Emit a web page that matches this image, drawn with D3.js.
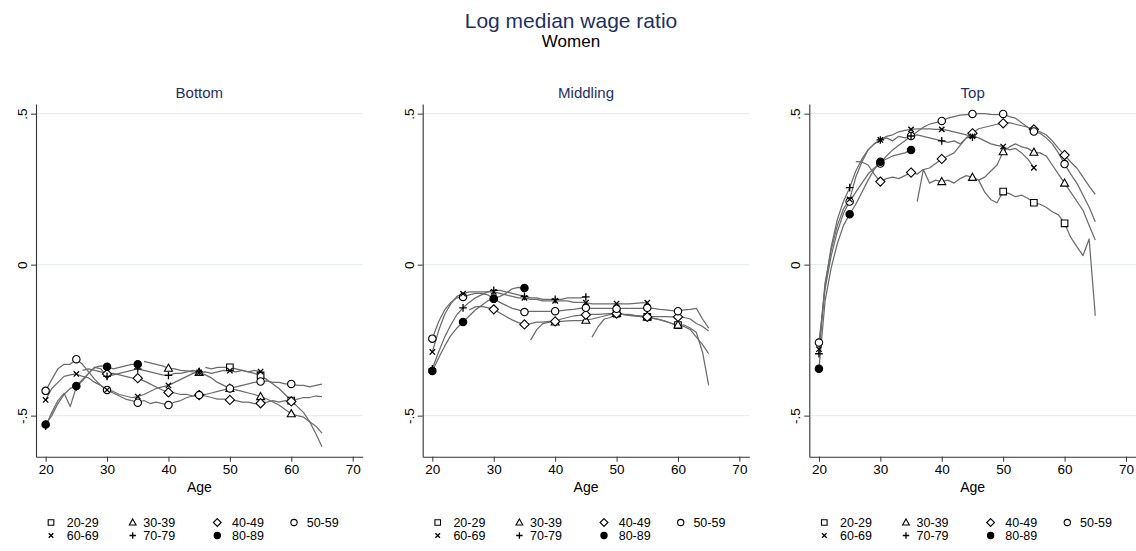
<!DOCTYPE html>
<html>
<head>
<meta charset="utf-8">
<script src="https://cdn.jsdelivr.net/npm/d3@7/dist/d3.min.js"></script>
<style>
  html, body { margin: 0; padding: 0; background: #fff; }
  svg text { font-family: "Liberation Sans", Arial, Helvetica, sans-serif; }
</style>
</head>
<body>
<svg id="chart" width="1136" height="551"></svg>
<script>
'use strict';

// Cohorts (birth decade) and the first age each one is observed at.
var cohorts = ['20-29', '30-39', '40-49', '50-59', '60-69', '70-79', '80-89'];
var firstAge = [46, 36, 26, 20, 20, 20, 20];
var markerAges = [20, 25, 30, 35, 40, 45, 50, 55, 60];
var xTicks = [20, 30, 40, 50, 60, 70];
var yTicks = [-0.5, 0, 0.5];
var yTickLabels = ['-.5', '0', '.5'];
var panelTitles = ['Bottom', 'Middling', 'Top'];

// Bottom occupations, one value per year of age
var bottom2029 = [-0.34, -0.345, -0.34, -0.34, -0.34, -0.345, -0.35, -0.355, -0.36, -0.367,
  -0.38, -0.395, -0.41, -0.43, -0.45, -0.47, -0.49, -0.52, -0.56, -0.603];
var bottom3039 = [-0.32, -0.325, -0.33, -0.335, -0.343, -0.345, -0.35, -0.352, -0.355, -0.357,
  -0.365, -0.375, -0.39, -0.4, -0.41, -0.415, -0.42, -0.425, -0.43, -0.437,
  -0.445, -0.455, -0.465, -0.48, -0.494, -0.5, -0.505, -0.52, -0.535, -0.558];
var bottom4049 = [-0.35, -0.345, -0.35, -0.355, -0.362, -0.36, -0.365, -0.37, -0.375, -0.376,
  -0.385, -0.395, -0.405, -0.415, -0.423, -0.425, -0.43, -0.43, -0.435, -0.432,
  -0.435, -0.44, -0.445, -0.445, -0.448, -0.45, -0.455, -0.455, -0.46, -0.459,
  -0.455, -0.45, -0.455, -0.45, -0.453, -0.445, -0.44, -0.44, -0.435, -0.437];
var bottom5059 = [-0.418, -0.38, -0.345, -0.33, -0.33, -0.313, -0.33, -0.355, -0.38, -0.4,
  -0.415, -0.425, -0.435, -0.445, -0.45, -0.457, -0.45, -0.46, -0.455, -0.46,
  -0.465, -0.455, -0.45, -0.44, -0.435, -0.432, -0.43, -0.425, -0.42, -0.415,
  -0.41, -0.405, -0.4, -0.395, -0.39, -0.387, -0.385, -0.39, -0.39, -0.395,
  -0.395, -0.4, -0.4, -0.405, -0.4, -0.396];
var bottom6069 = [-0.448, -0.41, -0.39, -0.37, -0.365, -0.362, -0.37, -0.375, -0.39, -0.4,
  -0.415, -0.42, -0.43, -0.435, -0.44, -0.437, -0.43, -0.42, -0.41, -0.405,
  -0.4, -0.39, -0.38, -0.37, -0.36, -0.357, -0.355, -0.36, -0.355, -0.35,
  -0.351, -0.355, -0.35, -0.355, -0.35, -0.354];
var bottom7079 = [-0.535, -0.49, -0.45, -0.426, -0.47, -0.405, -0.385, -0.36, -0.34, -0.345,
  -0.37, -0.365, -0.36, -0.355, -0.35, -0.345, -0.35, -0.355, -0.36, -0.365,
  -0.367, -0.36, -0.36, -0.355, -0.35, -0.355];
var bottom8089 = [-0.529, -0.5, -0.46, -0.43, -0.41, -0.402, -0.38, -0.36, -0.34, -0.335,
  -0.338, -0.345, -0.34, -0.335, -0.33, -0.33];

// Middling occupations
var middle2029 = [-0.24, -0.205, -0.18, -0.175, -0.162, -0.165, -0.168, -0.17, -0.172, -0.173,
  -0.178, -0.182, -0.188, -0.195, -0.2, -0.2, -0.21, -0.225, -0.29, -0.4];
var middle3039 = [-0.25, -0.215, -0.195, -0.19, -0.19, -0.188, -0.186, -0.185, -0.185, -0.184,
  -0.18, -0.175, -0.17, -0.165, -0.162, -0.165, -0.168, -0.17, -0.172, -0.173,
  -0.178, -0.182, -0.188, -0.195, -0.2, -0.205, -0.215, -0.24, -0.265, -0.295];
var middle4049 = [-0.15, -0.14, -0.138, -0.142, -0.148, -0.16, -0.172, -0.183, -0.192, -0.198,
  -0.195, -0.19, -0.19, -0.188, -0.188, -0.18, -0.175, -0.17, -0.168, -0.166,
  -0.165, -0.165, -0.163, -0.162, -0.162, -0.165, -0.165, -0.168, -0.17, -0.173,
  -0.172, -0.172, -0.172, -0.173, -0.173, -0.175, -0.18, -0.195, -0.205, -0.22];
var middle5059 = [-0.245, -0.19, -0.15, -0.125, -0.11, -0.107, -0.1, -0.095, -0.095, -0.1,
  -0.113, -0.125, -0.135, -0.145, -0.15, -0.157, -0.155, -0.155, -0.155, -0.155,
  -0.154, -0.152, -0.15, -0.148, -0.145, -0.143, -0.145, -0.145, -0.145, -0.145,
  -0.146, -0.145, -0.145, -0.145, -0.145, -0.143, -0.145, -0.148, -0.15, -0.152,
  -0.154, -0.15, -0.148, -0.145, -0.18, -0.21];
var middle6069 = [-0.289, -0.22, -0.165, -0.13, -0.105, -0.096, -0.09, -0.09, -0.09, -0.09,
  -0.09, -0.095, -0.1, -0.105, -0.11, -0.11, -0.115, -0.115, -0.12, -0.12,
  -0.12, -0.12, -0.12, -0.125, -0.125, -0.126, -0.13, -0.13, -0.13, -0.13,
  -0.129, -0.13, -0.13, -0.128, -0.127, -0.126];
var middle7079 = [-0.345, -0.29, -0.24, -0.2, -0.165, -0.143, -0.125, -0.11, -0.1, -0.09,
  -0.085, -0.085, -0.09, -0.095, -0.1, -0.105, -0.11, -0.11, -0.115, -0.115,
  -0.115, -0.115, -0.11, -0.11, -0.11, -0.107];
var middle8089 = [-0.352, -0.31, -0.27, -0.235, -0.21, -0.19, -0.17, -0.15, -0.135, -0.12,
  -0.113, -0.105, -0.095, -0.08, -0.075, -0.077];

// Top occupations
var top2029 = [0.28, 0.24, 0.215, 0.205, 0.242, 0.235, 0.225, 0.23, 0.22, 0.205,
  0.2, 0.19, 0.175, 0.165, 0.137, 0.09, 0.06, 0.03, 0.085, -0.169];
var top3039 = [0.209, 0.315, 0.27, 0.28, 0.275, 0.28, 0.27, 0.285, 0.295, 0.289,
  0.28, 0.29, 0.31, 0.33, 0.374, 0.39, 0.4, 0.39, 0.385, 0.372,
  0.37, 0.36, 0.33, 0.3, 0.27, 0.24, 0.21, 0.18, 0.13, 0.082];
var top4049 = [0.341, 0.34, 0.33, 0.3, 0.275, 0.285, 0.29, 0.285, 0.295, 0.305,
  0.3, 0.315, 0.32, 0.335, 0.35, 0.36, 0.37, 0.395, 0.42, 0.435,
  0.45, 0.455, 0.46, 0.465, 0.468, 0.47, 0.465, 0.46, 0.455, 0.448,
  0.44, 0.43, 0.41, 0.385, 0.363, 0.34, 0.32, 0.29, 0.26, 0.233];
var top5059 = [-0.258, -0.08, 0.03, 0.11, 0.17, 0.209, 0.24, 0.27, 0.3, 0.32,
  0.335, 0.36, 0.38, 0.395, 0.41, 0.426, 0.44, 0.455, 0.465, 0.47,
  0.476, 0.485, 0.49, 0.495, 0.497, 0.499, 0.5, 0.5, 0.498, 0.497,
  0.499, 0.49, 0.485, 0.47, 0.455, 0.441, 0.435, 0.42, 0.4, 0.37,
  0.333, 0.3, 0.27, 0.23, 0.19, 0.142];
var top6069 = [-0.28, -0.06, 0.05, 0.13, 0.185, 0.216, 0.29, 0.34, 0.38, 0.4,
  0.413, 0.425, 0.43, 0.44, 0.445, 0.448, 0.45, 0.45, 0.45, 0.448,
  0.448, 0.445, 0.44, 0.435, 0.43, 0.425, 0.42, 0.41, 0.4, 0.395,
  0.391, 0.38, 0.385, 0.37, 0.35, 0.321];
var top7079 = [-0.295, -0.07, 0.06, 0.15, 0.21, 0.255, 0.31, 0.35, 0.38, 0.4,
  0.413, 0.42, 0.41, 0.425, 0.42, 0.426, 0.43, 0.425, 0.42, 0.415,
  0.41, 0.405, 0.41, 0.4, 0.42, 0.422];
var top8089 = [-0.345, -0.12, -0.01, 0.07, 0.13, 0.167, 0.2, 0.24, 0.28, 0.315,
  0.341, 0.35, 0.36, 0.365, 0.37, 0.38];

var panelSeries = [
  [bottom2029, bottom3039, bottom4049, bottom5059, bottom6069, bottom7079, bottom8089],
  [middle2029, middle3039, middle4049, middle5059, middle6069, middle7079, middle8089],
  [top2029, top3039, top4049, top5059, top6069, top7079, top8089]
];

var layout = {
  panelLeft: [36, 422.7, 809.3],
  plotWidth: 326.7,
  plotTop: 104,
  plotBottom: 456.7,
  xDomain: [18.43, 71.63],
  yDomain: [-0.636, 0.532],
  legendSymbolX: [15, 96.7, 181.3, 258],
  legendTextX: [30.7, 107.3, 196, 270.7],
  legendRowY: [522.5, 535.5]
};

var markerTypes = ['square', 'triangle', 'diamond', 'circle', 'cross', 'plus', 'dot'];
var titleColor = '#1f3162';
var lineColor = '#6c6c6c';
var gridColor = '#e7eef1';
var axisColor = '#333';

var svg = d3.select('#chart');

/**
 * Path for one marker, centred on 0,0.
 * @param {String} type
 * @param {Number} scale  1 for the plot, smaller for the legend
 */
function markerPath(type, scale) {
  var p = d3.path(), s;
  if (type === 'square') {
    s = 3.3 * scale;
    p.rect(-s, -s, 2 * s, 2 * s);
  } else if (type === 'triangle') {
    s = 4 * scale;
    p.moveTo(0, -s * 1.05);
    p.lineTo(s, s * 0.75);
    p.lineTo(-s, s * 0.75);
    p.closePath();
  } else if (type === 'diamond') {
    s = 4.6 * scale;
    p.moveTo(0, -s);
    p.lineTo(s, 0);
    p.lineTo(0, s);
    p.lineTo(-s, 0);
    p.closePath();
  } else if (type === 'circle' || type === 'dot') {
    s = 3.7 * scale;
    p.arc(0, 0, s, 0, 2 * Math.PI);
    p.closePath();
  } else if (type === 'cross') {
    s = 2.7 * scale;
    p.moveTo(-s, -s); p.lineTo(s, s);
    p.moveTo(s, -s); p.lineTo(-s, s);
  } else if (type === 'plus') {
    s = 3.8 * scale;
    p.moveTo(-s, 0); p.lineTo(s, 0);
    p.moveTo(0, -s); p.lineTo(0, s);
  }
  return p.toString();
}

function drawMarker(g, type, x, y, scale) {
  var open = type === 'cross' || type === 'plus';
  g.append('path')
    .attr('d', markerPath(type, scale))
    .attr('transform', 'translate(' + x + ',' + y + ')')
    .attr('fill', open ? 'none' : (type === 'dot' ? '#000' : '#fff'))
    .attr('stroke', '#000')
    .attr('stroke-width', open ? 1.3 : 1.1);
}

// Overall titles
svg.append('text')
  .attr('x', 571).attr('y', 27.5)
  .attr('text-anchor', 'middle')
  .attr('font-size', 21)
  .attr('fill', titleColor)
  .text('Log median wage ratio');
svg.append('text')
  .attr('x', 571).attr('y', 47)
  .attr('text-anchor', 'middle')
  .attr('font-size', 17)
  .attr('fill', '#000')
  .text('Women');

panelSeries.forEach(function(series, pi) {
  var left = layout.panelLeft[pi],
      right = left + layout.plotWidth,
      g = svg.append('g').attr('class', 'panel'),
      x, y, line, yAxis, xAxis;

  x = d3.scaleLinear().domain(layout.xDomain).range([left, right]);
  y = d3.scaleLinear().domain(layout.yDomain).range([layout.plotBottom, layout.plotTop]);

  // Grid lines
  g.append('g').selectAll('line')
    .data(yTicks)
    .enter().append('line')
    .attr('x1', left).attr('x2', right)
    .attr('y1', function(d) { return y(d); })
    .attr('y2', function(d) { return y(d); })
    .attr('stroke', gridColor)
    .attr('stroke-width', 1.2);

  // Cohort lines
  line = d3.line()
    .x(function(d) { return x(d.age); })
    .y(function(d) { return y(d.value); });

  series.forEach(function(values, ci) {
    var pts = values.map(function(v, i) {
      return { age: firstAge[ci] + i, value: v };
    });
    g.append('path')
      .datum(pts)
      .attr('d', line)
      .attr('fill', 'none')
      .attr('stroke', lineColor)
      .attr('stroke-width', 1.25)
      .attr('stroke-linejoin', 'round');
  });

  // Markers every five years, drawn above all lines
  series.forEach(function(values, ci) {
    var lastAge = firstAge[ci] + values.length - 1;
    markerAges.forEach(function(age) {
      if (age < firstAge[ci] || age > lastAge) {
        return;
      }
      drawMarker(g, markerTypes[ci], x(age), y(values[age - firstAge[ci]]), 1);
    });
  });

  // Axes
  yAxis = g.append('g')
    .attr('transform', 'translate(' + left + ',0)')
    .call(d3.axisLeft(y)
      .tickValues(yTicks)
      .tickFormat(function(d, i) { return yTickLabels[i]; })
      .tickSize(5)
      .tickSizeOuter(0));
  yAxis.selectAll('text')
    .attr('transform', 'rotate(-90)')
    .attr('x', 0)
    .attr('y', -9)
    .attr('dy', 0)
    .attr('text-anchor', 'middle')
    .attr('font-size', 13.5)
    .attr('fill', '#000');

  xAxis = g.append('g')
    .attr('transform', 'translate(0,' + layout.plotBottom + ')')
    .call(d3.axisBottom(x)
      .tickValues(xTicks)
      .tickFormat(d3.format('d'))
      .tickSize(5)
      .tickSizeOuter(0)
      .tickPadding(3));
  xAxis.selectAll('text')
    .attr('font-size', 13.5)
    .attr('fill', '#000');

  [yAxis, xAxis].forEach(function(a) {
    a.select('.domain').attr('stroke', axisColor).attr('stroke-width', 1.1);
    a.selectAll('.tick line').attr('stroke', axisColor);
    a.attr('font-family', null);
  });

  // Titles
  g.append('text')
    .attr('x', (left + right) / 2).attr('y', 98)
    .attr('text-anchor', 'middle')
    .attr('font-size', 15)
    .attr('fill', titleColor)
    .text(panelTitles[pi]);
  g.append('text')
    .attr('x', (left + right) / 2).attr('y', 492)
    .attr('text-anchor', 'middle')
    .attr('font-size', 14)
    .attr('fill', '#000')
    .text('Age');

  // Legend
  cohorts.forEach(function(label, ci) {
    var col = ci % 4,
        row = Math.floor(ci / 4),
        ly = layout.legendRowY[row];
    drawMarker(g, markerTypes[ci], left + layout.legendSymbolX[col], ly, 0.85);
    g.append('text')
      .attr('x', left + layout.legendTextX[col])
      .attr('y', ly + 4.5)
      .attr('font-size', 12.5)
      .attr('fill', '#000')
      .text(label);
  });
});
</script>
</body>
</html>
